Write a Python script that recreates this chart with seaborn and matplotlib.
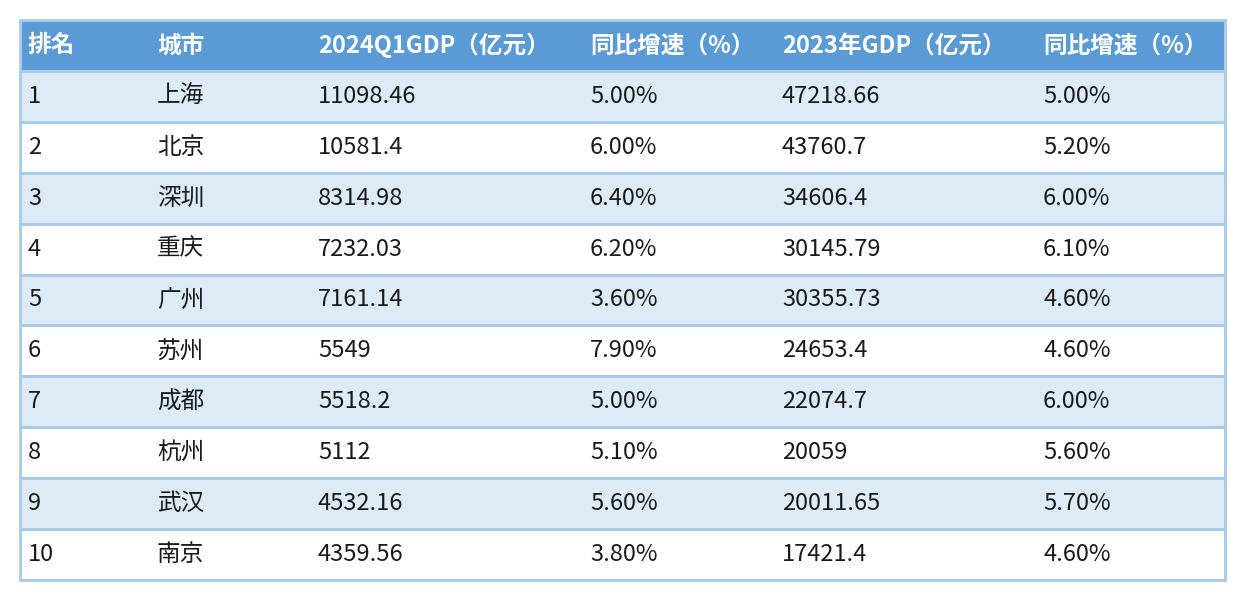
import matplotlib
matplotlib.use("Agg")
import matplotlib.pyplot as plt
from matplotlib.colors import ListedColormap
import seaborn as sns
import numpy as np

headers = ["排名", "城市", "2024Q1GDP（亿元）", "同比增速（%）", "2023年GDP（亿元）", "同比增速（%）"]
rank = ["1", "2", "3", "4", "5", "6", "7", "8", "9", "10"]
city = ["上海", "北京", "深圳", "重庆", "广州", "苏州", "成都", "杭州", "武汉", "南京"]
gdp_q1 = ["11098.46", "10581.4", "8314.98", "7232.03", "7161.14", "5549", "5518.2", "5112", "4532.16", "4359.56"]
growth_q1 = ["5.00%", "6.00%", "6.40%", "6.20%", "3.60%", "7.90%", "5.00%", "5.10%", "5.60%", "3.80%"]
gdp_2023 = ["47218.66", "43760.7", "34606.4", "30145.79", "30355.73", "24653.4", "22074.7", "20059", "20011.65", "17421.4"]
growth_2023 = ["5.00%", "5.20%", "6.00%", "6.10%", "4.60%", "4.60%", "6.00%", "5.60%", "5.70%", "4.60%"]

sns.set_theme(style="white", rc={"font.family": ["Noto Sans CJK SC", "Noto Sans CJK JP", "DejaVu Sans"],
                                 "axes.unicode_minus": False})

cols = [rank, city, gdp_q1, growth_q1, gdp_2023, growth_2023]
W, H = 1242, 602
L, R, T, B = 20, 1225, 20, 580
col_x = [28, 157, 318, 590, 782, 1043]

fig = plt.figure(figsize=(W / 100, H / 100), dpi=100)
ax = fig.add_axes([L / W, 1 - B / H, (R - L) / W, (B - T) / H])
band = np.array([[0]] + [[1 if i % 2 == 0 else 2] for i in range(len(rank))])
cmap = ListedColormap(["#5B9BD5", "#DDEBF7", "#FFFFFF"])
sns.heatmap(band, ax=ax, cmap=cmap, cbar=False, vmin=-0.5, vmax=2.5,
            linewidths=1.8, linecolor="#A9CBEA", xticklabels=False, yticklabels=False)
for s in ax.spines.values():
    s.set_visible(True)
    s.set_color("#A9CBEA")
    s.set_linewidth(2)

for j, h in enumerate(headers):
    xf = (col_x[j] - L) / (R - L)
    ax.text(xf, 0.5, h, fontsize=17, fontweight="bold", color="white", va="center", ha="left")
for j, col in enumerate(cols):
    xf = (col_x[j] - L) / (R - L)
    for i, v in enumerate(col):
        ax.text(xf, i + 1.5, v, fontsize=17, color="#1a1a1a", va="center", ha="left")

fig.savefig("out.png", dpi=100)
